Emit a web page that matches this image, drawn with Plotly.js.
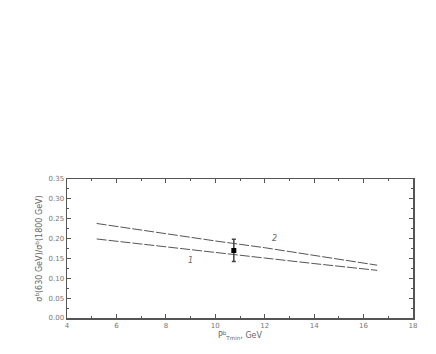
<!DOCTYPE html>
<html><head><meta charset="utf-8">
<script src="https://cdn.plot.ly/plotly-3.0.1.min.js"></script>
<style>html,body{margin:0;padding:0;background:#fff}</style>
</head><body><div id="c" style="width:436px;height:354px"></div>
<script>
var curve2X = [5.2, 8, 10, 12, 14, 16.55];
var curve2Y = [0.238, 0.212, 0.194, 0.177, 0.158, 0.133];
var curve1X = [5.2, 8, 10, 12, 14, 16.55];
var curve1Y = [0.199, 0.180, 0.165, 0.151, 0.137, 0.120];
var pointX = [10.75];
var pointY = [0.170];
var pointErr = [0.028];
var curveLabels = ["2", "1"];
var labelX = [12.4, 9.0];
var labelY = [0.201, 0.144];

var grey = '#555';
var traces = [
  {x: curve2X, y: curve2Y, mode: 'lines', line: {color: grey, width: 1, dash: '10px,2px'}, hoverinfo: 'none'},
  {x: curve1X, y: curve1Y, mode: 'lines', line: {color: grey, width: 1, dash: '10px,2px'}, hoverinfo: 'none'},
  {x: pointX, y: pointY, mode: 'markers', marker: {symbol: 'square', size: 5, color: '#000'},
   error_y: {type: 'data', array: pointErr, visible: true, color: '#444', thickness: 1.5, width: 2}}
];
var annotations = curveLabels.map(function (t, i) {
  return {x: labelX[i], y: labelY[i], xref: 'x', yref: 'y', text: '<i>' + t + '</i>', showarrow: false,
          font: {family: 'DejaVu Sans', size: 8, color: '#666'}};
});
var axBase = {
  showgrid: false, zeroline: false, showline: true, linecolor: '#555', linewidth: 1.5,
  mirror: 'ticks', ticks: 'inside', ticklen: 4, tickcolor: '#555',
  tickfont: {family: 'DejaVu Sans', size: 7, color: '#777'}
};
var layout = {
  width: 436, height: 354, showlegend: false,
  paper_bgcolor: '#fff', plot_bgcolor: '#fff',
  margin: {l: 67, r: 23, t: 179, b: 36},
  annotations: annotations,
  xaxis: Object.assign({}, axBase, {
    range: [4, 18], dtick: 2, tick0: 4,
    minor: {dtick: 1, ticks: 'inside', ticklen: 2, tickcolor: '#555'},
    title: {text: 'P<sup>b</sup><sub>Tmin</sub>, GeV', standoff: 1, font: {family: 'DejaVu Sans', size: 8, color: '#666'}}
  }),
  yaxis: Object.assign({}, axBase, {
    range: [0, 0.35], dtick: 0.05, tickformat: '.2f',
    minor: {dtick: 0.025, ticks: 'inside', ticklen: 2, tickcolor: '#555'},
    title: {text: 'σ<sup>b</sup>(630 GeV)/σ<sup>b</sup>(1800 GeV)', standoff: 4, font: {family: 'DejaVu Sans', size: 8, color: '#666'}}
  })
};
Plotly.newPlot('c', traces, layout, {staticPlot: true});
</script></body></html>
